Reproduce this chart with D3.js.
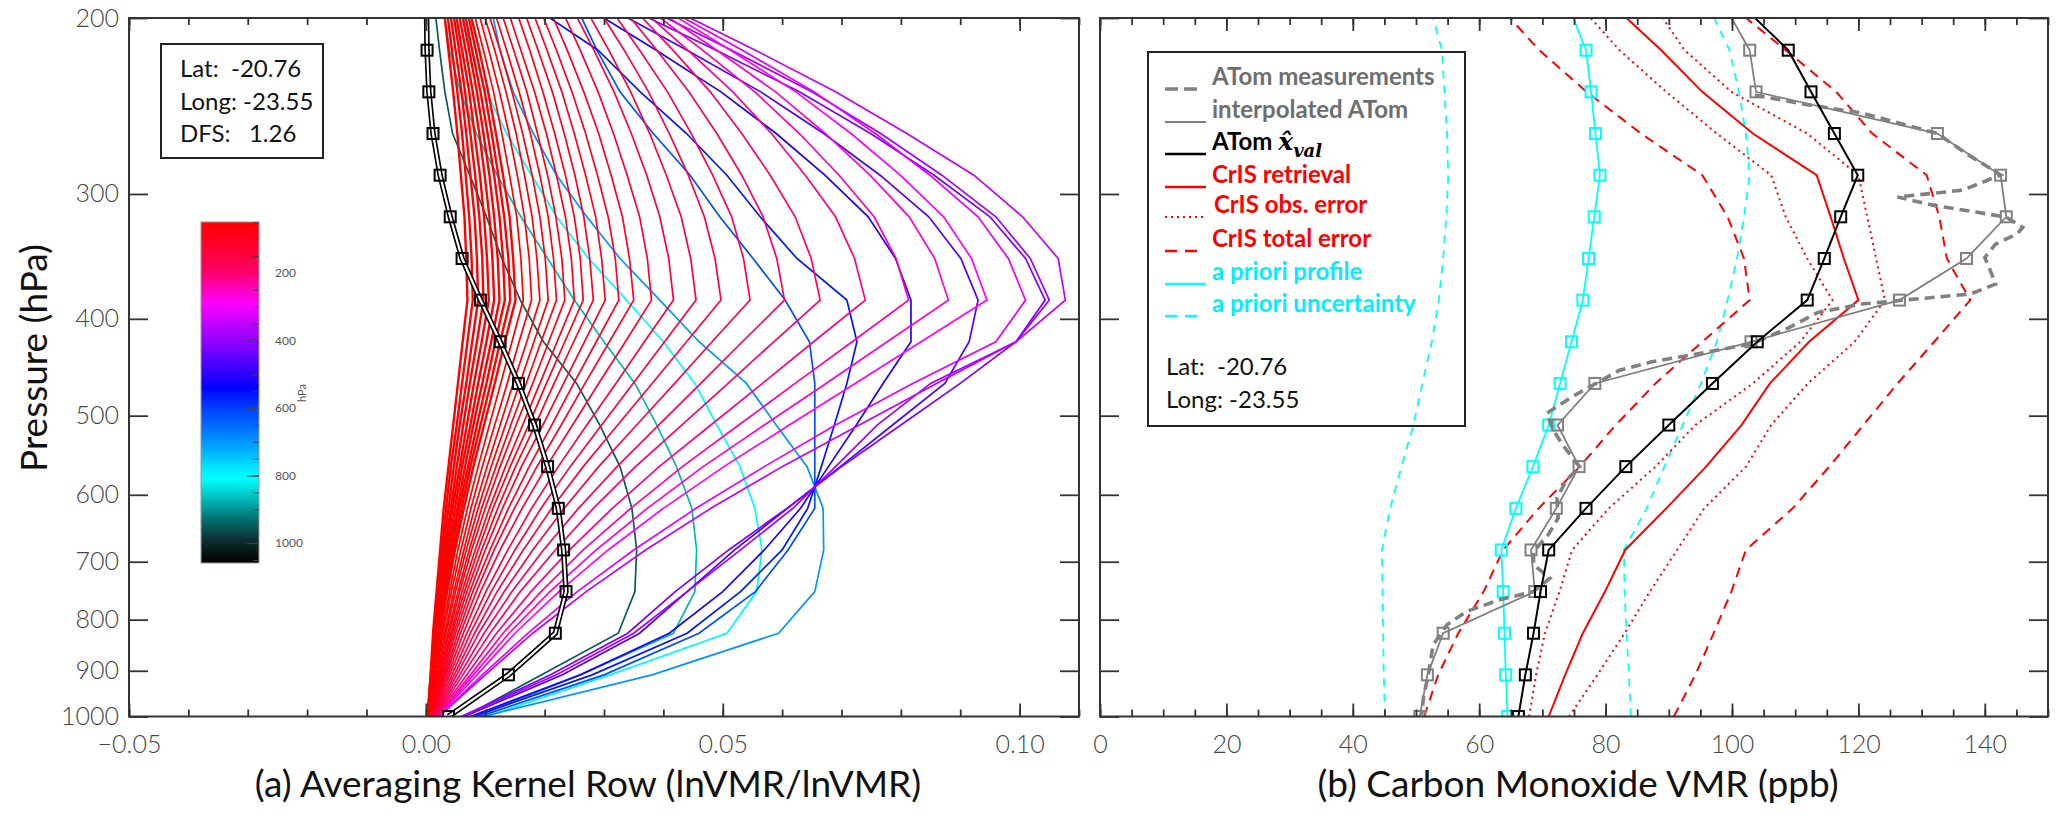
<!DOCTYPE html>
<html>
<head>
<meta charset="utf-8">
<script src="https://cdn.jsdelivr.net/npm/d3@7"></script>
<style>
  body { margin: 0; background: #fff; }
  svg text { font-family: Lato, "Open Sans", sans-serif; }
</style>
</head>
<body>
<svg id="chart" width="2067" height="820"></svg>
<script>
// Pressure grid (hPa): index 0 = surface, index 17 just above the 200 hPa top
const levels = [1000, 908.5, 825.4, 749.9, 681.3, 619.0, 562.3, 510.9, 464.2, 421.7, 383.1, 348.1, 316.2, 287.3, 261.0, 237.1, 215.4, 195.7];

// (a) averaging kernel rows, values listed from 1000 hPa upward; row pressure sets the colour
const akRowP = [950, 870, 805, 700, 619, 562, 511, 464, 422, 383, 348, 316, 287, 261, 237, 215, 196, 185,
  175, 162, 151, 141, 131, 122, 114, 106, 98, 90, 84, 78, 72, 66, 60, 55, 50,
  46, 38, 30, 22, 15, 8, 4, 2, 1, 0.5];
const akRows = [
  [.0065,.0195,.0324,.0352,.0355,.0347,.0327,.0293,.0254,.0198,.0159,.0128,.0102,.0074,.0045,.0032,.0023,.0015],
  [.0085,.0260,.0417,.0453,.0456,.0448,.0422,.0389,.0352,.0300,.0250,.0205,.0160,.0120,.0085,.0058,.0040,.0030],
  [.0102,.0310,.0507,.0557,.0566,.0554,.0529,.0490,.0453,.0400,.0338,.0274,.0220,.0178,.0136,.0102,.0077,.0060],
  [.0096,.0381,.0594,.0655,.0670,.0669,.0642,.0590,.0540,.0460,.0394,.0327,.0271,.0220,.0181,.0147,.0125,.0110],
  [.0090,.0300,.0460,.0555,.0610,.0655,.0655,.0655,.0655,.0646,.0605,.0551,.0495,.0445,.0383,.0327,.0288,.0255],
  [.0080,.0280,.0440,.0530,.0600,.0643,.0666,.0688,.0709,.0726,.0709,.0625,.0563,.0507,.0439,.0361,.0290,.0185],
  [.0075,.0260,.0410,.0500,.0570,.0631,.0678,.0725,.0770,.0817,.0817,.0791,.0745,.0672,.0590,.0497,.0388,.0274],
  [.0065,.0230,.0360,.0440,.0520,.0609,.0698,.0786,.0874,.0915,.0930,.0901,.0847,.0765,.0670,.0564,.0440,.0311],
  [.0060,.0210,.0340,.0420,.0510,.0608,.0700,.0800,.0900,.0994,.1043,.1010,.0950,.0856,.0749,.0629,.0489,.0342],
  [.0060,.0220,.0350,.0440,.0530,.0618,.0690,.0760,.0850,.0994,.1050,.1018,.0960,.0869,.0766,.0650,.0515,.0373],
  [.0022,.0100,.0180,.0270,.0370,.0480,.0600,.0730,.0860,.0994,.1077,.1065,.1005,.0923,.0810,.0690,.0555,.0413],
  [.0022,.0095,.0172,.0255,.0350,.0455,.0570,.0690,.0820,.0960,.1010,.0981,.0930,.0849,.0757,.0654,.0533,.0406],
  [.0021,.0086,.0150,.0224,.0307,.0400,.0502,.0612,.0723,.0834,.0945,.0919,.0872,.0799,.0716,.0623,.0513,.0399],
  [.0020,.0080,.0140,.0209,.0287,.0373,.0467,.0570,.0674,.0777,.0880,.0857,.0814,.0748,.0673,.0589,.0490,.0387],
  [.0019,.0075,.0130,.0194,.0265,.0345,.0432,.0527,.0622,.0718,.0813,.0792,.0755,.0696,.0629,.0554,.0466,.0374],
  [.0018,.0069,.0119,.0177,.0242,.0314,.0393,.0480,.0567,.0653,.0740,.0722,.0690,.0639,.0582,.0517,.0441,.0362],
  [.0017,.0062,.0108,.0159,.0218,.0282,.0353,.0431,.0509,.0586,.0664,.0649,.0622,.0580,.0532,.0479,.0416,.0350],
  [.0016,.0057,.0098,.0145,.0198,.0257,.0322,.0392,.0463,.0533,.0604,.0591,.0568,.0532,.0490,.0443,.0389,.0332],
  [.0015,.0052,.0089,.0132,.0180,.0233,.0291,.0355,.0419,.0482,.0546,.0535,.0515,.0483,.0447,.0407,.0360,.0311],
  [.0014,.0048,.0082,.0120,.0164,.0212,.0265,.0323,.0381,.0439,.0497,.0487,.0469,.0442,.0410,.0375,.0334,.0290],
  [.0013,.0044,.0075,.0110,.0150,.0194,.0243,.0296,.0349,.0402,.0455,.0446,.0430,.0405,.0377,.0345,.0308,.0269],
  [.0012,.0040,.0069,.0101,.0138,.0178,.0223,.0271,.0320,.0368,.0417,.0409,.0394,.0372,.0346,.0317,.0283,.0247],
  [.0011,.0037,.0063,.0092,.0125,.0162,.0203,.0247,.0291,.0336,.0380,.0373,.0360,.0339,.0316,.0290,.0260,.0228],
  [.0010,.0034,.0058,.0085,.0115,.0149,.0187,.0228,.0268,.0309,.0350,.0343,.0331,.0312,.0291,.0266,.0238,.0208],
  [.0010,.0032,.0054,.0079,.0108,.0139,.0174,.0212,.0249,.0287,.0325,.0319,.0307,.0289,.0269,.0246,.0220,.0192],
  [.0009,.0030,.0050,.0074,.0100,.0129,.0161,.0197,.0232,.0267,.0302,.0296,.0286,.0269,.0250,.0229,.0204,.0178],
  [.0009,.0028,.0047,.0069,.0094,.0121,.0151,.0184,.0216,.0249,.0282,.0276,.0266,.0251,.0233,.0213,.0189,.0164],
  [.0008,.0026,.0044,.0065,.0088,.0113,.0142,.0173,.0203,.0234,.0265,.0260,.0250,.0235,.0217,.0197,.0175,.0151],
  [.0008,.0025,.0042,.0061,.0083,.0107,.0134,.0163,.0192,.0221,.0250,.0245,.0235,.0220,.0203,.0183,.0160,.0137],
  [.0007,.0023,.0039,.0057,.0077,.0100,.0125,.0152,.0180,.0207,.0234,.0229,.0219,.0205,.0188,.0170,.0148,.0125],
  [.0007,.0022,.0037,.0054,.0073,.0094,.0118,.0143,.0169,.0194,.0220,.0215,.0206,.0192,.0176,.0157,.0136,.0114],
  [.0006,.0020,.0034,.0050,.0068,.0088,.0110,.0134,.0158,.0182,.0206,.0201,.0192,.0179,.0163,.0145,.0125,.0103],
  [.0006,.0019,.0032,.0047,.0064,.0082,.0103,.0125,.0147,.0170,.0192,.0187,.0179,.0166,.0152,.0135,.0116,.0095],
  [.0005,.0017,.0029,.0043,.0059,.0076,.0095,.0116,.0137,.0157,.0178,.0174,.0166,.0154,.0140,.0124,.0106,.0087],
  [.0005,.0016,.0027,.0040,.0054,.0070,.0088,.0107,.0126,.0145,.0164,.0160,.0153,.0141,.0128,.0114,.0097,.0079],
  [.0003,.0013,.0024,.0036,.0049,.0064,.0080,.0098,.0116,.0133,.0151,.0147,.0141,.0130,.0118,.0105,.0090,.0073],
  [.0003,.0013,.0023,.0034,.0046,.0060,.0075,.0092,.0109,.0125,.0142,.0139,.0132,.0122,.0111,.0099,.0084,.0069],
  [.0003,.0012,.0021,.0032,.0043,.0056,.0071,.0086,.0102,.0117,.0133,.0130,.0124,.0115,.0104,.0092,.0078,.0064],
  [.0003,.0012,.0020,.0030,.0041,.0053,.0066,.0080,.0095,.0110,.0124,.0121,.0115,.0107,.0097,.0086,.0073,.0059],
  [.0003,.0011,.0019,.0028,.0038,.0049,.0061,.0075,.0088,.0102,.0115,.0112,.0107,.0099,.0090,.0079,.0067,.0054],
  [.0003,.0010,.0017,.0026,.0035,.0045,.0057,.0069,.0081,.0094,.0106,.0103,.0098,.0091,.0082,.0073,.0061,.0049],
  [.0003,.0010,.0016,.0024,.0032,.0042,.0052,.0063,.0074,.0086,.0097,.0095,.0090,.0083,.0075,.0066,.0056,.0045],
  [.0003,.0009,.0015,.0022,.0029,.0038,.0047,.0057,.0068,.0078,.0088,.0086,.0082,.0075,.0068,.0060,.0050,.0040],
  [.0003,.0008,.0014,.0020,.0027,.0034,.0042,.0052,.0061,.0070,.0079,.0077,.0073,.0067,.0061,.0053,.0044,.0035],
  [.0003,.0008,.0012,.0018,.0024,.0030,.0038,.0046,.0054,.0062,.0070,.0068,.0065,.0059,.0053,.0046,.0038,.0030]
];
// black row with square markers
const akBlack = [.0038,.0139,.0218,.0236,.0232,.0223,.0205,.0183,.0156,.0125,.0092,.0061,.0041,.0024,.0012,.0005,.0002,.0001];

// (b) CO profiles (ppb) on the same grid
const atomInterp = [50.6, 51.8, 54.3, 68.8, 68.2, 72.2, 75.8, 72.4, 78.3, 103.0, 126.5, 137.1, 143.4, 142.5, 132.5, 103.8, 102.8, 99.1];
const atomXval   = [66.2, 67.3, 68.6, 69.7, 71.0, 76.9, 83.2, 90.0, 96.9, 104.0, 111.9, 114.6, 117.2, 119.9, 116.2, 112.5, 108.9, 102.1];
const crisRet    = [71.0, 73.6, 76.4, 79.9, 83.1, 89.6, 95.9, 101.5, 106.0, 112.2, 120.0, 117.7, 115.6, 113.4, 103.3, 95.3, 88.8, 81.7];
const crisObsLo  = [67.9, 69.0, 70.4, 72.7, 74.7, 80.5, 87.9, 94.2, 103.3, 110.8, 115.9, 111.9, 108.5, 106.2, 97.6, 89.6, 82.2, 76.3];
const crisObsHi  = [74.2, 78.7, 83.0, 87.0, 91.3, 95.6, 102.2, 106.2, 112.0, 119.4, 124.2, 122.8, 121.4, 120.0, 111.9, 99.9, 92.5, 88.0];
const crisTotLo  = [51.3, 53.5, 56.7, 60.7, 63.8, 69.4, 75.9, 81.6, 87.9, 95.3, 102.8, 101.9, 99.3, 95.3, 85.6, 77.0, 69.5, 63.5];
const crisTotHi  = [90.8, 94.2, 97.1, 99.9, 102.2, 109.6, 115.4, 120.8, 126.2, 132.0, 137.7, 134.0, 132.8, 130.8, 122.2, 116.5, 108.5, 100.4];
const aprioriProf = [64.5, 64.2, 64.0, 63.8, 63.5, 65.8, 68.5, 71.0, 72.8, 74.6, 76.4, 77.3, 78.2, 79.1, 78.4, 77.7, 76.9, 74.3];
const aprioriLo  = [45.1, 44.9, 44.8, 44.7, 44.6, 45.9, 47.7, 49.6, 51.0, 52.5, 53.6, 54.3, 54.8, 55.1, 54.9, 54.5, 54.1, 52.3];
const aprioriHi  = [84.0, 83.7, 83.3, 83.0, 82.9, 86.5, 89.3, 92.2, 95.1, 97.6, 99.3, 100.8, 101.9, 102.8, 102.2, 101.1, 99.6, 96.5];
// raw ATom measurements (pressure, ppb)
const atomMeasP = [238.9, 244.2, 248.9, 261.0, 273.4, 287.1, 297.4, 302.1, 308.0, 312.9, 316.5, 324.0, 329.0, 336.8, 347.3, 360.8, 369.2, 377.8, 382.1, 386.6, 394.1, 408.0, 423.4, 433.3, 441.7, 450.3, 464.2, 478.7, 497.4, 516.8, 535.9, 562.6, 580.0, 604.6, 633.0, 658.0, 683.5, 705.0, 727.0, 749.7, 764.0, 784.9, 809.4, 848.0, 905.3, 954.9, 997.0];
const atomMeasV = [103.6, 111.9, 120.5, 132.5, 137.1, 142.5, 136.5, 126.2, 132.0, 138.8, 143.4, 146.0, 145.1, 141.7, 140.0, 141.1, 141.7, 137.7, 129.1, 120.5, 113.6, 109.1, 103.3, 94.8, 87.3, 82.2, 78.5, 74.7, 70.7, 71.7, 73.3, 75.9, 73.8, 72.3, 72.5, 70.9, 68.6, 68.6, 71.2, 68.6, 63.3, 58.0, 54.9, 52.7, 52.0, 51.2, 50.9];

// tick labels and text
const pTicks = [200, 300, 400, 500, 600, 700, 800, 900, 1000];
const akTicks = [-0.05, 0, 0.05, 0.10];
const coTicks = [0, 20, 40, 60, 80, 100, 120, 140];
const cbarTicks = [200, 400, 600, 800, 1000];
const infoA = ['Lat:  -20.76', 'Long: -23.55', 'DFS:   1.26'];
const infoB = ['Lat:  -20.76', 'Long: -23.55'];
const legendLabels = ['ATom measurements', 'interpolated ATom', 'ATom ', 'CrIS retrieval', 'CrIS obs. error', 'CrIS total error', 'a priori profile', 'a priori uncertainty'];

// colour table for the kernel rows (pressure -> colour)
const cmapP = [49, 150, 200, 250, 290, 350, 420, 480, 540, 600, 660, 720, 780, 810, 870, 930, 990, 1059];
const cmapC = ['#ff0000', '#ff0040', '#ff0070', '#ff00c0', '#ff00ff', '#c000ff', '#8000ff', '#4000ff', '#0000ff', '#0040ff',
  '#0070ff', '#00a8ff', '#00e8ff', '#00ffff', '#00b8b8', '#007070', '#103030', '#000000'];
const cmap = d3.scaleLinear().domain(cmapP).range(cmapC).clamp(true);

const svg = d3.select('#chart');
const plotTop = 18, plotBottom = 716.5;

const yP = d3.scaleLog().domain([200, 1000]).range([plotTop, plotBottom]);
const xAK = d3.scaleLinear().domain([-0.05, 0.11]).range([129, 1079]);
const xCO = d3.scaleLinear().domain([0, 150]).range([1100, 2048]);

const defs = svg.append('defs');
[['clipA', xAK], ['clipB', xCO]].forEach(([id, xs]) => {
  const [x0, x1] = xs.range();
  defs.append('clipPath').attr('id', id).append('rect')
    .attr('x', x0).attr('y', plotTop).attr('width', x1 - x0).attr('height', plotBottom - plotTop);
});

// Frame, ticks and tick labels of one panel
function drawAxes(xs, major, minor, fmt, yLabels) {
  const [x0, x1] = xs.range();
  const g = svg.append('g');
  g.append('g').attr('transform', `translate(0,${plotBottom})`)
    .call(d3.axisBottom(xs).tickValues(major).tickSize(-13).tickPadding(19).tickFormat(fmt));
  g.append('g').attr('transform', `translate(0,${plotBottom})`)
    .call(d3.axisBottom(xs).tickValues(minor).tickSize(-7).tickFormat(''));
  g.append('g').attr('transform', `translate(0,${plotTop})`)
    .call(d3.axisTop(xs).tickValues(major).tickSize(-13).tickFormat(''));
  g.append('g').attr('transform', `translate(0,${plotTop})`)
    .call(d3.axisTop(xs).tickValues(minor).tickSize(-7).tickFormat(''));
  g.append('g').attr('transform', `translate(${x0},0)`)
    .call(d3.axisLeft(yP).tickValues(pTicks).tickSize(-19).tickPadding(10).tickFormat(yLabels ? d3.format('d') : ''));
  g.append('g').attr('transform', `translate(${x1},0)`)
    .call(d3.axisRight(yP).tickValues(pTicks).tickSize(-19).tickFormat(''));
  g.selectAll('.domain').remove();
  g.selectAll('.tick line').attr('stroke', '#333').attr('stroke-width', 1.8);
  g.selectAll('.tick text').attr('font-family', 'Lato').attr('font-weight', 300)
    .attr('font-size', 25).attr('fill', '#444');
  svg.append('rect').attr('x', x0).attr('y', plotTop).attr('width', x1 - x0).attr('height', plotBottom - plotTop)
    .attr('fill', 'none').attr('stroke', '#333').attr('stroke-width', 2);
}

const akLine = d3.line().x(d => xAK(d)).y((d, i) => yP(levels[i]));
const coLine = d3.line().x(d => xCO(d)).y((d, i) => yP(levels[i]));

// ---------- (a) averaging kernels ----------
const gA = svg.append('g').attr('clip-path', 'url(#clipA)');
gA.selectAll('.akrow')
  .data(akRows)
  .join('path')
  .attr('d', akLine)
  .attr('fill', 'none')
  .attr('stroke', (d, i) => cmap(akRowP[i]))
  .attr('stroke-width', (d, i) => akRowP[i] < 48 ? 2.4 : 1.7);

gA.append('path').attr('d', akLine(akBlack)).attr('fill', 'none').attr('stroke', '#000').attr('stroke-width', 5.5);
gA.append('path').attr('d', akLine(akBlack)).attr('fill', 'none').attr('stroke', '#fff').attr('stroke-width', 2.2);
gA.selectAll('.aksq')
  .data(akBlack.slice(0, 17))
  .join('rect')
  .attr('x', d => xAK(d) - 5.5)
  .attr('y', (d, i) => yP(levels[i]) - 5.5)
  .attr('width', 11).attr('height', 11)
  .attr('fill', 'none').attr('stroke', '#000').attr('stroke-width', 2);

drawAxes(xAK, akTicks, d3.range(-5, 12).map(k => k / 100), d3.format('.2f'), true);

// info box
svg.append('rect').attr('x', 161).attr('y', 44).attr('width', 162).attr('height', 114)
  .attr('fill', 'none').attr('stroke', '#222').attr('stroke-width', 2);
svg.selectAll('.infoA')
  .data(infoA)
  .join('text')
  .attr('x', 180).attr('y', (d, i) => 77 + i * 32.5)
  .attr('font-size', 24).attr('fill', '#111')
  .attr('xml:space', 'preserve')
  .text(d => d);

// colour bar
const cbTop = 222, cbBot = 563, cbX = 201, cbW = 58;
const cbY = d3.scaleLinear().domain([49, 1059]).range([cbTop, cbBot]);
const grad = defs.append('linearGradient').attr('id', 'cbar').attr('x1', 0).attr('x2', 0).attr('y1', 0).attr('y2', 1);
grad.selectAll('stop')
  .data(cmapP)
  .join('stop')
  .attr('offset', d => (cbY(d) - cbTop) / (cbBot - cbTop))
  .attr('stop-color', (d, i) => cmapC[i]);
svg.append('rect').attr('x', cbX).attr('y', cbTop).attr('width', cbW).attr('height', cbBot - cbTop)
  .attr('fill', 'url(#cbar)').attr('stroke', '#999').attr('stroke-width', 1);
const gCb = svg.append('g').attr('transform', `translate(${cbX + cbW},0)`);
gCb.call(d3.axisRight(cbY).tickValues(d3.range(50, 1060, 50)).tickSize(-6).tickFormat(''));
gCb.append('g').call(d3.axisRight(cbY).tickValues(cbarTicks).tickSize(-12).tickPadding(16).tickFormat(d3.format('d')));
gCb.selectAll('.domain').remove();
gCb.selectAll('.tick line').attr('stroke', '#444').attr('stroke-width', 1);
gCb.selectAll('.tick text').attr('font-family', 'Lato').attr('font-size', 12).attr('fill', '#555');
svg.append('text').attr('transform', 'translate(306,393) rotate(-90)')
  .attr('text-anchor', 'middle').attr('font-size', 11).attr('fill', '#555').text('hPa');

// ---------- (b) CO profiles ----------
const gB = svg.append('g').attr('clip-path', 'url(#clipB)');
function coPath(vals, color, width, dash) {
  gB.append('path').attr('d', coLine(vals)).attr('fill', 'none')
    .attr('stroke', color).attr('stroke-width', width)
    .attr('stroke-dasharray', dash || null);
}
function coSquares(vals, color) {
  gB.append('g').selectAll('rect')
    .data(vals.slice(0, 17))
    .join('rect')
    .attr('x', d => xCO(d) - 5.5)
    .attr('y', (d, i) => yP(levels[i]) - 5.5)
    .attr('width', 11).attr('height', 11)
    .attr('fill', 'none').attr('stroke', color).attr('stroke-width', 2);
}
const cyan = '#00ffff', red = '#ff0000', gray = '#808080';
coPath(aprioriLo, cyan, 1.8, '8,7');
coPath(aprioriHi, cyan, 1.8, '8,7');
coPath(crisTotLo, red, 2, '10,7');
coPath(crisTotHi, red, 2, '10,7');
coPath(crisObsLo, red, 2, '2,4');
coPath(crisObsHi, red, 2, '2,4');
coPath(crisRet, red, 2);
coPath(aprioriProf, cyan, 1.8);
coSquares(aprioriProf, cyan);
gB.append('path')
  .attr('d', d3.line().x(d => xCO(d[1])).y(d => yP(d[0]))(atomMeasP.map((p, i) => [p, atomMeasV[i]])))
  .attr('fill', 'none').attr('stroke', gray).attr('stroke-width', 3.6).attr('stroke-dasharray', '10,6');
coPath(atomInterp, gray, 1.8);
coSquares(atomInterp, gray);
coPath(atomXval, '#000', 2);
coSquares(atomXval, '#000');

drawAxes(xCO, coTicks, d3.range(0, 151, 5), d3.format('d'), false);

// legend
svg.append('rect').attr('x', 1148).attr('y', 52).attr('width', 317).attr('height', 374)
  .attr('fill', 'none').attr('stroke', '#222').attr('stroke-width', 2);
const legColors = ['#6e6e6e', '#6e6e6e', '#000', red, red, red, '#00eeff', '#00eeff'];
const legStroke = [gray, gray, '#000', red, red, red, cyan, cyan];
const legDash = ['13,6', null, null, null, '2,4', '12,8', null, '12,8'];
const legWidth = [3.6, 2.2, 2.4, 2.4, 2.2, 2.4, 2.4, 2.4];
const legBase = [85, 118, 150, 183, 213, 247, 280, 312];
const gL = svg.append('g');
legendLabels.forEach((lab, i) => {
  gL.append('line').attr('x1', 1165).attr('x2', i === 0 || i === 5 || i === 7 ? 1199 : 1206)
    .attr('y1', legBase[i] + 4).attr('y2', legBase[i] + 4)
    .attr('stroke', legStroke[i]).attr('stroke-width', legWidth[i])
    .attr('stroke-dasharray', legDash[i]);
  const t = gL.append('text').attr('x', i === 4 ? 1214 : 1212).attr('y', legBase[i])
    .attr('font-size', 24).attr('font-weight', 700).attr('fill', legColors[i]).text(lab);
  if (i === 2) {
    t.append('tspan').attr('font-family', '"DejaVu Serif", serif').attr('font-style', 'italic')
      .attr('font-size', 25).text('x\u0302');
    t.append('tspan').attr('font-family', '"DejaVu Serif", serif').attr('font-style', 'italic')
      .attr('font-size', 18).attr('dy', 7).text('val');
  }
});
gL.selectAll('.infoB')
  .data(infoB)
  .join('text')
  .attr('x', 1166).attr('y', (d, i) => 375 + i * 33)
  .attr('font-size', 24).attr('fill', '#111')
  .attr('xml:space', 'preserve')
  .text(d => d);

// axis titles
svg.append('text').attr('transform', 'translate(47,358) rotate(-90)')
  .attr('text-anchor', 'middle').attr('font-size', 37).attr('fill', '#111').text('Pressure (hPa)');
svg.append('text').attr('x', 588).attr('y', 797).attr('text-anchor', 'middle')
  .attr('font-size', 37).attr('fill', '#111').text('(a) Averaging Kernel Row (lnVMR/lnVMR)');
svg.append('text').attr('x', 1578).attr('y', 797).attr('text-anchor', 'middle')
  .attr('font-size', 37).attr('fill', '#111').text('(b) Carbon Monoxide VMR (ppb)');
</script>
</body>
</html>
